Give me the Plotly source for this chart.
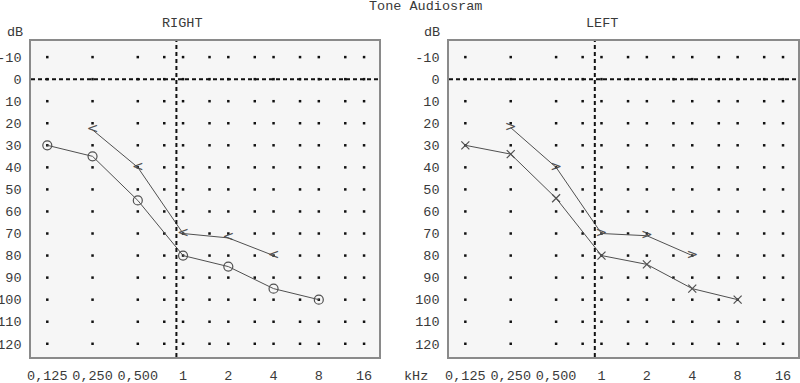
import math
import plotly.graph_objects as go
from plotly.subplots import make_subplots

# ---- data ----
grid_freqs = [0.125, 0.25, 0.5, 0.75, 1, 1.5, 2, 3, 4, 6, 8, 12, 16]
grid_db = [-10, 0, 10, 20, 30, 40, 50, 60, 70, 80, 90, 100, 110, 120]
tick_freqs = [0.125, 0.25, 0.5, 1, 2, 4, 8, 16]
tick_labels = ["0,125", "0,250", "0,500", "1", "2", "4", "8", "16"]
db_ticks = [-10, 0, 10, 20, 30, 40, 50, 60, 70, 80, 90, 100, 110, 120]
db_labels = ["-10", "0", "10", "20", "30", "40", "50", "60", "70", "80", "90", "100", "110", "120"]
dashed_freqs = [1, 8]
dashed_db = [0]

air_freqs = [0.125, 0.25, 0.5, 1, 2, 4, 8]
right_air_db = [30, 35, 55, 80, 85, 95, 100]
left_air_db = [30, 34, 54, 80, 84, 95, 100]

bone_freqs = [0.25, 0.5, 1, 2, 4]
right_bone_db = [23, 40, 70, 72, 80]
left_bone_db = [22, 40, 70, 71, 80]

FONT = "Liberation Mono, Courier New, monospace"
TXT = "#3a3a3a"
LINE = "#505050"

fig = make_subplots(rows=1, cols=2, horizontal_spacing=0.05)

for col, air_db, bone_db, bone_sym, air_sym, air_size in [
    (1, right_air_db, right_bone_db, "<", "circle-open", 9),
    (2, left_air_db, left_bone_db, ">", "x-thin-open", 8),
]:
    # dot grid
    gx = [f for f in grid_freqs for _ in grid_db]
    gy = [d for _ in grid_freqs for d in grid_db]
    fig.add_trace(go.Scatter(x=gx, y=gy, mode="markers",
                             marker=dict(size=2.5, color="#111", symbol="square"),
                             showlegend=False, hoverinfo="skip"), row=1, col=col)
    # air conduction
    fig.add_trace(go.Scatter(x=air_freqs, y=air_db, mode="lines+markers",
                             line=dict(color=LINE, width=1),
                             marker=dict(symbol=air_sym, size=air_size, color=LINE,
                                         line=dict(width=1.2, color=LINE)),
                             showlegend=False), row=1, col=col)
    # bone conduction
    fig.add_trace(go.Scatter(x=bone_freqs, y=bone_db, mode="lines+text",
                             text=[bone_sym] * len(bone_freqs),
                             textposition="middle center",
                             textfont=dict(family="DejaVu Sans", size=14, color=LINE),
                             line=dict(color=LINE, width=1),
                             showlegend=False), row=1, col=col)

x_domains = [[31 / 800, 379 / 800], [449 / 800, 798 / 800]]
y_domain = [1 - 357 / 383, 1 - 41 / 383]
xr = [math.log10(2 ** -3.36), math.log10(2 ** 4.33)]

for i, ax in enumerate(["", "2"]):
    fig.layout["xaxis" + ax].update(
        type="log", domain=x_domains[i], range=xr,
        tickvals=tick_freqs, ticktext=tick_labels,
        showgrid=False, zeroline=False,
        showline=True, mirror=True, linecolor="#8a8a8a", linewidth=1.5,
        ticks="outside", ticklen=5, tickcolor="rgba(0,0,0,0)",
        tickfont=dict(family=FONT, size=13.5, color=TXT), automargin=False)
    fig.layout["yaxis" + ax].update(
        domain=y_domain, range=[126, -17.3],
        tickvals=db_ticks, ticktext=db_labels,
        showgrid=False, zeroline=False,
        showline=True, mirror=True, linecolor="#8a8a8a", linewidth=1.5,
        ticks="outside", ticklen=5, tickcolor="rgba(0,0,0,0)",
        tickfont=dict(family=FONT, size=13.5, color=TXT), automargin=False)

shapes = []
for i, ax in enumerate(["", "2"]):
    for f in dashed_freqs:
        shapes.append(dict(type="line", xref="x" + ax, yref="y" + ax + " domain",
                           x0=math.log10(f), x1=math.log10(f), y0=0, y1=1,
                           line=dict(color="#111", width=2, dash="4px,3px")))
    for d in dashed_db:
        shapes.append(dict(type="line", xref="x" + ax + " domain", yref="y" + ax,
                           x0=0, x1=1, y0=d, y1=d,
                           line=dict(color="#111", width=2, dash="4px,3px")))

annotations = [
    dict(text="Tone Audiosram", x=425 / 800, y=1 - 7 / 383, xref="paper", yref="paper",
         showarrow=False, xanchor="center", yanchor="middle",
         font=dict(family=FONT, size=13.5, color=TXT)),
    dict(text="RIGHT", x=182 / 800, y=1 - 24 / 383, xref="paper", yref="paper",
         showarrow=False, xanchor="center", yanchor="middle",
         font=dict(family=FONT, size=13.5, color=TXT)),
    dict(text="LEFT", x=602 / 800, y=1 - 24 / 383, xref="paper", yref="paper",
         showarrow=False, xanchor="center", yanchor="middle",
         font=dict(family=FONT, size=13.5, color=TXT)),
    dict(text="dB", x=15 / 800, y=1 - 33 / 383, xref="paper", yref="paper",
         showarrow=False, xanchor="center", yanchor="middle",
         font=dict(family=FONT, size=13.5, color=TXT)),
    dict(text="dB", x=432 / 800, y=1 - 33 / 383, xref="paper", yref="paper",
         showarrow=False, xanchor="center", yanchor="middle",
         font=dict(family=FONT, size=13.5, color=TXT)),
    dict(text="kHz", x=416 / 800, y=1 - 376 / 383, xref="paper", yref="paper",
         showarrow=False, xanchor="center", yanchor="middle",
         font=dict(family=FONT, size=13.5, color=TXT)),
]

fig.update_layout(
    width=800, height=383,
    margin=dict(l=0, r=0, t=0, b=0),
    paper_bgcolor="white", plot_bgcolor="#f6f6f6",
    shapes=shapes, annotations=annotations, showlegend=False,
)

fig.write_html("out.html", config={"displayModeBar": False},
               post_script="document.body.style.margin='0';")
